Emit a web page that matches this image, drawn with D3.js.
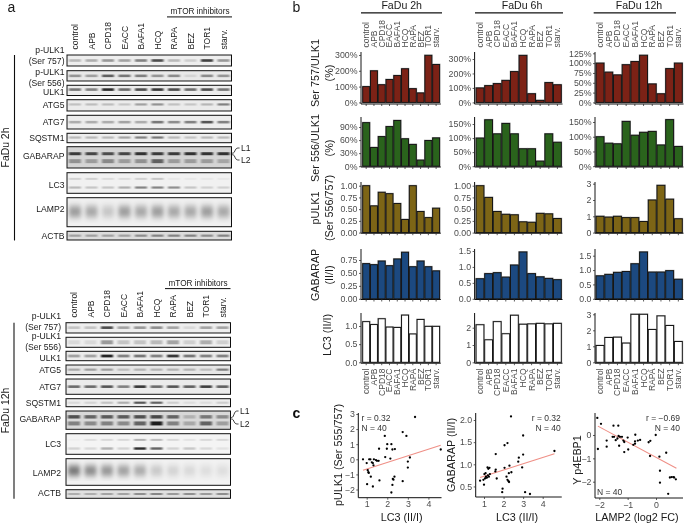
<!DOCTYPE html>
<html><head><meta charset="utf-8">
<script src="https://cdn.jsdelivr.net/npm/d3@7"></script>
<style>
html,body{margin:0;padding:0;background:#fff}
svg{display:block}
text{font-family:"Liberation Sans",Arial,sans-serif}
</style></head><body><div id="c"></div>
<script>
// ---------- data ----------
const categories=["control","APB","CPD18","EACC","BAFA1","HCQ","RAPA","BEZ","TOR1","starv."];
const times=["FaDu 2h","FaDu 6h","FaDu 12h"];

const ser757_2h=[100,200,112,145,170,213,87,60,298,240];
const ser757_6h=[100,116,130,152,213,325,60,14,137,122];
const ser757_12h=[100,77,70,96,104,120,47,22,86,100];
const ser556_2h=[100,43,68,91,105,63,50,14,59,65];
const ser556_6h=[100,165,115,152,115,62,62,18,115,85];
const ser556_12h=[100,78,76,152,105,115,118,72,158,67];
const pulk_2h=[1,.57,.86,.83,.62,.28,1,.45,.32,.52];
const pulk_6h=[1,.75,.45,.39,.38,.23,.22,.41,.40,.30];
const pulk_12h=[1,.95,1,.92,.92,.68,2,2.9,2.05,.85];
const gabarap_2h=[.68,.66,.73,.64,.77,.9,.62,.73,.62,.54];
const gabarap_6h=[.63,.79,.82,.68,1.06,1.47,.79,.69,.64,.6];
const gabarap_12h=[.8,.85,.92,.95,1.22,1.63,.93,.93,.98,.68];
const lc3_2h=[1.12,1.04,1.2,.97,.96,1.3,.78,1.18,.99,.99];
const lc3_6h=[2.17,1.3,2.35,1.65,2.72,2.2,2.22,2.25,2.22,2.25];
const lc3_12h=[1.05,1.55,1.57,1.2,3,3,2.05,2.9,2.3,1.3];

const ticks757_2h=[0,100,200,300], ticks757_6h=[0,100,200,300], ticks757_12h=[0,25,50,75,100,125];
const ticks556_2h=[0,30,60,90], ticks556_6h=[0,50,100,150], ticks556_12h=[0,50,100,150];
const ticksP_2h=[0,.25,.5,.75,1], ticksP_6h=[0,.25,.5,.75,1], ticksP_12h=[0,1,2,3];
const ticksG_2h=[0,.25,.5,.75], ticksG_6h=[0,.5,1,1.5], ticksG_12h=[0,.5,1,1.5];
const ticksL_2h=[0,.5,1], ticksL_6h=[0,1,2], ticksL_12h=[0,1,2,3];

const scatterLc3Pulk=[[.82,0],[1,-.25],[1.05,-.72],[1.08,-.85],[1.1,-.9],[1.02,-1.65],[1.12,0],[1.18,0],[1.2,-1.15],[1.25,-.2],[1.3,-.25],[1.33,-.4],[1.3,-1.8],[1.35,0],[1.5,-.1],[1.58,-.1],[1.62,-1.4],[1.6,.7],[1.88,1.55],[1.9,.15],[1.98,.7],[2,1],[2.15,.05],[2.2,1],[2.25,.65],[2.2,-2.2],[2.25,-1.7],[2.27,-1.3],[2.35,-1.15],[2.37,.68],[2.75,-1.45],[2.75,1.8],[2.93,1.55],[3,-.55],[3,-.15],[3.1,.12],[3.35,2.8],[4.6,.65],[1.45,-.05],[2.3,-1.35]];
const scatterLc3Gab=[[.8,.63],[.97,.65],[1,.54],[1.02,.78],[1.05,.68],[1.08,.8],[1.12,.7],[1.18,.93],[1.2,.75],[1.25,.72],[1.3,.78],[1.28,.92],[1.58,.84],[1.6,.88],[1.6,1.23],[1.65,.68],[1.95,.45],[1.93,.37],[2.05,1.43],[2.05,.92],[2.2,1.48],[2.2,.65],[2.25,.62],[2.27,.8],[2.28,.6],[2.3,.97],[2.4,.82],[2.38,2.08],[2.75,1.06],[2.78,1.15],[2.95,.93],[3,1.65],[3,1.22],[3.1,.37],[3.35,.33],[4.6,1.3],[2.15,.72],[1.15,.7],[1.1,.72],[1.22,.9]];
const scatterLampEbp=[[-2.07,.73],[-1.94,.48],[-2.05,-.6],[-1.74,-.24],[-1.74,-.5],[-1.5,.4],[-1.33,.4],[-1.53,-.08],[-1.48,-.08],[-1.42,-.22],[-1.32,-.04],[-1.27,-.08],[-1.2,-.08],[-1.3,-.46],[-1.15,-.24],[-1.12,-.3],[-1.12,-.73],[-1,-.11],[-.98,-.62],[-.74,-.37],[-.73,.01],[-.74,-.27],[-.64,-.24],[-.56,-.21],[-.26,-.31],[-.2,-.25],[-.21,-.9],[-.01,0],[.12,-.93],[.36,-.76],[.14,-1.53],[.14,-2.04],[.43,-2.52],[.49,-1.82],[.55,-1.8],[.61,-1.8],[.64,-1.82],[.7,-1.9],[-1.36,-.15],[-.8,-.42]];
const trendLc3Pulk=[[.82,-.72],[4.6,.93]];
const trendLc3Gab=[[.8,.7],[4.6,1.24]];
const trendLampEbp=[[-2.05,.38],[.72,-1.42]];

// western blot band intensities per lane
const blot2h_757=[.25,.3,.4,.35,.5,.75,.25,.15,.8,.4];
const blot2h_556=[.4,.35,.65,.55,.5,.4,.45,.1,.45,.4];
const blot2h_ulk=[.55,.5,.9,.6,.75,.85,.75,.6,.75,.55];
const blot2h_atg5=[.2,.22,.22,.18,.35,.42,.2,.18,.25,.5];
const blot2h_atg7=[.3,.3,.3,.35,.3,.55,.45,.5,.7,.5];
const blot2h_sqstm=[.25,.25,.25,.35,.5,.55,.25,.2,.25,.25];
const blot2h_gabL1=[.8,.75,.7,.75,.85,.8,.8,.85,.85,.85];
const blot2h_gabL2=[.35,.3,.4,.3,.35,.6,.3,.3,.3,.25];
const blot2h_lc3a=[.15,.15,.1,.1,.15,.2,.05,.05,.05,.05];
const blot2h_lc3b=[.25,.2,.2,.3,.5,.5,.45,.2,.15,.15];
const blot2h_lamp=[.4,.35,.2,.4,.35,.4,.35,.35,.4,.35];
const blot2h_actb=[.3,.3,.3,.3,.4,.45,.45,.45,.4,.45];
const blot12h_757=[.2,.2,.75,.35,.4,.45,.35,.1,.35,.35];
const blot12h_556=[.1,.1,.4,.2,.2,.25,.35,.15,.3,.15];
const blot12h_ulk=[.35,.35,.95,.5,.55,.5,.85,.55,.5,.5];
const blot12h_atg5=[.3,.35,.35,.2,.25,.25,.25,.25,.2,.5];
const blot12h_atg7=[.6,.6,.7,.5,.85,.6,.7,.65,.8,.65];
const blot12h_sqstm=[.1,.12,.2,.3,.7,.65,.15,.08,.08,.15];
const blot12h_gabL1=[.7,.6,.65,.65,.7,.75,.6,.2,.5,.4];
const blot12h_gabL2=[.45,.4,.45,.4,.6,.95,.45,.25,.6,.3];
const blot12h_lc3a=[.02,.1,.12,.12,.3,.25,.12,.08,.12,.12];
const blot12h_lc3b=[.15,.12,.3,.15,.9,.65,.15,.2,.12,.08];
const blot12h_lamp=[.6,.5,.45,.4,.35,.2,.15,.12,.1,.1];
const blot12h_actb=[.25,.25,.3,.3,.4,.45,.35,.4,.35,.4];

// ---------- layout ----------
const W=685,H=524;
const svg=d3.select("#c").append("svg").attr("width",W).attr("height",H);
const defs=svg.append("defs");
defs.append("filter").attr("id","soft").attr("x","-30%").attr("y","-200%").attr("width","160%").attr("height","500%")
  .append("feGaussianBlur").attr("stdDeviation","1.0 0.6");
defs.append("filter").attr("id","wide").attr("x","-30%").attr("y","-50%").attr("width","160%").attr("height","200%")
  .append("feGaussianBlur").attr("stdDeviation","2.2 3");
defs.append("filter").attr("id","txt").attr("x","-5%").attr("y","-20%").attr("width","110%").attr("height","140%")
  .append("feGaussianBlur").attr("stdDeviation","0.25");

const root=svg.append("g").attr("filter","url(#txt)");
const INK="#1a1a1a", GREY="#4d4d4d";
const TICK=8.8, LANE=8.5, BLOT=8.6, TITLE=10.6, AXT=10.8, NOTE=8.5;

function txt(x,y,s,o={}){
  const t=root.append("text").attr("x",x).attr("y",y).text(s)
    .attr("font-size",o.size||8).attr("fill",o.fill||INK)
    .attr("text-anchor",o.anchor||"start");
  if(o.rot!==undefined) t.attr("transform",`rotate(${o.rot} ${x} ${y})`);
  return t;
}
function line(x1,y1,x2,y2,w=1,c="#111"){
  root.append("line").attr("x1",x1).attr("y1",y1).attr("x2",x2).attr("y2",y2)
    .attr("stroke",c).attr("stroke-width",w);
}

// ---------- panel a ----------
function blotPanel(cfg){
  const x=d3.scalePoint().domain(categories).range([cfg.lane0,cfg.lane1]);
  categories.forEach(c=>{
    txt(x(c)+3,cfg.labelY,c,{size:LANE,rot:-90});
  });
  txt(cfg.mtorX,cfg.mtorY,"mTOR inhibitors",{size:8.2,anchor:"middle"});
  line(cfg.mtorL,cfg.mtorY+2.6,cfg.mtorR,cfg.mtorY+2.6,1);
  line(cfg.sideX,cfg.rows[0].y0,cfg.sideX,cfg.rows[cfg.rows.length-1].y1+.5,1.1);
  txt(cfg.sideX-5.5,(cfg.rows[0].y0+cfg.rows[cfg.rows.length-1].y1)/2,cfg.title,{size:10.4,rot:-90,anchor:"middle"});
  cfg.rows.forEach((r,i)=>{
    const clipId=cfg.id+"c"+i;
    defs.append("clipPath").attr("id",clipId).append("rect")
      .attr("x",cfg.left).attr("y",r.y0).attr("width",cfg.right-cfg.left).attr("height",r.y1-r.y0);
    root.append("rect").attr("x",cfg.left).attr("y",r.y0).attr("width",cfg.right-cfg.left).attr("height",r.y1-r.y0).attr("fill",r.bg);
    const g=root.append("g").attr("clip-path",`url(#${clipId})`);
    r.bands.forEach(b=>{
      g.append("g").attr("filter",r.wide?"url(#wide)":"url(#soft)").selectAll("rect").data(b.v).join("rect")
        .attr("x",(d,j)=>x(categories[j])-6).attr("width",12)
        .attr("y",r.y0+(r.y1-r.y0)*b.f-b.h/2).attr("height",b.h)
        .attr("fill","#000").attr("opacity",d=>d*.9);
    });
    root.append("rect").attr("x",cfg.left).attr("y",r.y0).attr("width",cfg.right-cfg.left).attr("height",r.y1-r.y0)
      .attr("fill","none").attr("stroke","#111").attr("stroke-width",1);
    const lbl=r.label;
    if(lbl.length===2){
      txt(cfg.labelRight,r.ly-11,lbl[0],{size:BLOT,anchor:"end"});
      txt(cfg.labelRight,r.ly,lbl[1],{size:BLOT,anchor:"end"});
    } else txt(cfg.labelRight,r.ly,lbl[0],{size:BLOT,anchor:"end"});
  });
  // L1 / L2 callouts
  const gab=cfg.rows[6];
  txt(cfg.right+9.5,cfg.l1y,"L1",{size:BLOT});
  txt(cfg.right+9.5,cfg.l2y,"L2",{size:BLOT});
  const cur=d3.line().curve(d3.curveBasis);
  root.append("path").attr("fill","none").attr("stroke","#111").attr("stroke-width",.8)
    .attr("d",cur([[cfg.right,gab.y0+6.5],[cfg.right+3,gab.y0+6.5],[cfg.right+4,cfg.l1y-3],[cfg.right+8,cfg.l1y-3]]));
  root.append("path").attr("fill","none").attr("stroke","#111").attr("stroke-width",.8)
    .attr("d",cur([[cfg.right,gab.y0+8],[cfg.right+3,gab.y0+8],[cfg.right+4,cfg.l2y-3],[cfg.right+8,cfg.l2y-3]]));
}
blotPanel({id:"t",title:"FaDu 2h",left:67,right:231.5,lane0:75,lane1:223.5,labelY:49.5,labelRight:64.5,
  mtorX:200,mtorY:14.3,mtorL:167,mtorR:232,sideX:14.5,l1y:151,l2y:163,
  rows:[
  {label:["p-ULK1","(Ser 757)"],ly:64,y0:55,y1:66,bg:"#eeeeee",bands:[{f:.5,h:2.6,v:blot2h_757}]},
  {label:["p-ULK1","(Ser 556)"],ly:85.5,y0:70.7,y1:81,bg:"#e9e9e9",bands:[{f:.5,h:2.6,v:blot2h_556}]},
  {label:["ULK1"],ly:95,y0:85.3,y1:95.5,bg:"#ececec",bands:[{f:.42,h:2.6,v:blot2h_ulk}]},
  {label:["ATG5"],ly:108.3,y0:99.7,y1:111,bg:"#ebebeb",bands:[{f:.42,h:2.2,v:blot2h_atg5}]},
  {label:["ATG7"],ly:125,y0:115.3,y1:129,bg:"#ededed",bands:[{f:.5,h:2.6,v:blot2h_atg7}]},
  {label:["SQSTM1"],ly:140.5,y0:133.3,y1:142.7,bg:"#eeeeee",bands:[{f:.45,h:2.2,v:blot2h_sqstm}]},
  {label:["GABARAP"],ly:159,y0:146.7,y1:168,bg:"#d4d4d4",bands:[{f:.33,h:3,v:blot2h_gabL1},{f:.68,h:4,v:blot2h_gabL2}]},
  {label:["LC3"],ly:187.5,y0:172.7,y1:193.3,bg:"#f1f1f1",bands:[{f:.3,h:2,v:blot2h_lc3a},{f:.72,h:2.2,v:blot2h_lc3b}]},
  {label:["LAMP2"],ly:212,y0:197.7,y1:226.7,bg:"#f0f0f0",wide:true,bands:[{f:.48,h:11,v:blot2h_lamp}]},
  {label:["ACTB"],ly:238.5,y0:231.3,y1:240,bg:"#dcdcdc",bands:[{f:.5,h:2.2,v:blot2h_actb}]}
  ]});
blotPanel({id:"b",title:"FaDu 12h",left:66,right:230.5,lane0:74,lane1:222.5,labelY:317.5,labelRight:61,
  mtorX:198,mtorY:286,mtorL:165,mtorR:230.5,sideX:14,l1y:414,l2y:427,
  rows:[
  {label:["p-ULK1","(Ser 757)"],ly:329.5,y0:322.7,y1:333,bg:"#eeeeee",bands:[{f:.48,h:2.6,v:blot12h_757}]},
  {label:["p-ULK1","(Ser 556)"],ly:349.5,y0:337.3,y1:347.3,bg:"#efefef",bands:[{f:.5,h:4,v:blot12h_556}]},
  {label:["ULK1"],ly:361,y0:351.3,y1:360.7,bg:"#ececec",bands:[{f:.5,h:2.8,v:blot12h_ulk}]},
  {label:["ATG5"],ly:373,y0:365,y1:374.7,bg:"#e6e6e6",bands:[{f:.48,h:2.2,v:blot12h_atg5}]},
  {label:["ATG7"],ly:390,y0:379,y1:394.3,bg:"#ebebeb",bands:[{f:.5,h:2.6,v:blot12h_atg7}]},
  {label:["SQSTM1"],ly:405.5,y0:398.7,y1:406.7,bg:"#eeeeee",bands:[{f:.5,h:2.2,v:blot12h_sqstm}]},
  {label:["GABARAP"],ly:421.8,y0:411,y1:429.3,bg:"#d8d8d8",bands:[{f:.32,h:3.4,v:blot12h_gabL1},{f:.68,h:4,v:blot12h_gabL2}]},
  {label:["LC3"],ly:447,y0:433.7,y1:454.3,bg:"#f4f4f4",bands:[{f:.3,h:2,v:blot12h_lc3a},{f:.72,h:2.4,v:blot12h_lc3b}]},
  {label:["LAMP2"],ly:476,y0:458.7,y1:485.3,bg:"#f2f2f2",wide:true,bands:[{f:.45,h:10,v:blot12h_lamp}]},
  {label:["ACTB"],ly:495.5,y0:489.7,y1:498.3,bg:"#e0e0e0",bands:[{f:.5,h:2,v:blot12h_actb}]}
  ]});

txt(7.5,12,"a",{size:14});
txt(292.5,12,"b",{size:14});
txt(292.5,418,"c",{size:14,fill:"#111"}).attr("font-weight","bold");

// ---------- panel b ----------
const colsX=[{l:362.3,r:440},{l:475.7,r:561.7},{l:595.7,r:682.7}];
const axisX=[361,474.6,595];
const rowsY=[
 {top:52,axis:104,zero:102.4,color:"#7c2215"},
 {top:117,axis:167,zero:166.2,color:"#2a641f"},
 {top:182,axis:233.2,zero:232.6,color:"#7d6518"},
 {top:249,axis:299.5,zero:298.8,color:"#1a4a80"},
 {top:313,axis:363.2,zero:362.3,color:"#ffffff"}
];
const pct=d=>d+"%", f2=d3.format(".2f"), f1=d3.format(".1f"), f0=d3.format("d");
const panels=[
 [{v:ser757_2h,t:ticks757_2h,ref:[300,55],f:pct},{v:ser757_6h,t:ticks757_6h,ref:[300,59],f:pct},{v:ser757_12h,t:ticks757_12h,ref:[125,53.3],f:pct}],
 [{v:ser556_2h,t:ticks556_2h,ref:[90,127],f:pct},{v:ser556_6h,t:ticks556_6h,ref:[150,124],f:pct},{v:ser556_12h,t:ticks556_12h,ref:[150,122],f:pct}],
 [{v:pulk_2h,t:ticksP_2h,ref:[1,185.7],f:f2},{v:pulk_6h,t:ticksP_6h,ref:[1,185.7],f:f2},{v:pulk_12h,t:ticksP_12h,ref:[3,183.7],f:f0}],
 [{v:gabarap_2h,t:ticksG_2h,ref:[.75,260],f:f2},{v:gabarap_6h,t:ticksG_6h,ref:[1.5,251],f:f1},{v:gabarap_12h,t:ticksG_12h,ref:[1.5,255.7],f:f1}],
 [{v:lc3_2h,t:ticksL_2h,ref:[1,326],f:f1},{v:lc3_6h,t:ticksL_6h,ref:[2,327.7],f:f0},{v:lc3_12h,t:ticksL_12h,ref:[3,314.3],f:f0}]
];
function styleAxis(g){
  g.selectAll(".domain").attr("stroke","#111").attr("stroke-width",1);
  g.selectAll(".tick line").attr("stroke","#333").attr("stroke-width",.8);
  g.selectAll(".tick text").attr("fill",GREY).attr("font-size",TICK)
    .style("font-family",'"Liberation Sans",Arial,sans-serif');
}
panels.forEach((row,ri)=>{
  const R=rowsY[ri];
  row.forEach((p,ci)=>{
    const C=colsX[ci];
    const x=d3.scaleBand().domain(categories).range([C.l,C.r]).padding(0);
    const y=d3.scaleLinear().domain([0,p.ref[0]]).range([R.zero,p.ref[1]]);
    const g=root.append("g");
    g.selectAll(".halo").data(p.v).join("rect")
      .attr("x",(d,i)=>x(categories[i])+.4).attr("width",x.bandwidth()-.8)
      .attr("y",d=>y(d)).attr("height",d=>R.zero-y(d))
      .attr("fill","none").attr("stroke","#b5b5b5").attr("stroke-width",1.8);
    g.selectAll(".bar").data(p.v).join("rect")
      .attr("x",(d,i)=>x(categories[i])+.4).attr("width",x.bandwidth()-.8)
      .attr("y",d=>y(d)).attr("height",d=>R.zero-y(d))
      .attr("fill",R.color).attr("stroke","#151515").attr("stroke-width",1);
    const yg=g.append("g").attr("transform",`translate(${axisX[ci]},0)`)
      .call(d3.axisLeft(y).tickValues(p.t).tickFormat(p.f).tickSize(2).tickPadding(1.5).tickSizeOuter(0));
    yg.select(".domain").attr("d",`M0,${R.top}V${R.axis}`);
    styleAxis(yg);
    const xg=g.append("g").attr("transform",`translate(0,${R.axis})`)
      .call(d3.axisBottom(x).tickSize(2).tickFormat("").tickSizeOuter(0));
    xg.select(".domain").attr("d",`M${axisX[ci]},0H${C.r+.8}`);
    styleAxis(xg);
    if(ri===4){
      categories.forEach(c=>{
        txt(x(c)+x.bandwidth()/2+3,368.5,c,{size:LANE,fill:GREY,anchor:"end",rot:-90});
      });
    }
    if(ri===0){
      categories.forEach(c=>{
        txt(x(c)+x.bandwidth()/2+3,47.5,c,{size:LANE,fill:GREY,rot:-90});
      });
    }
  });
});
const titleLines=[[361,442,401.7],[475,563,522],[593.7,676,639]];
times.forEach((t,i)=>{
  const [a,b,c]=titleLines[i];
  txt(c,9.4,t,{size:TITLE,anchor:"middle"});
  line(a,12.8,b,12.8,1.2);
});
const yt=(x,y,s)=>txt(x,y,s,{size:AXT,rot:-90,anchor:"middle"});
yt(319,73,"Ser 757/ULK1"); yt(332.5,73,"(%)");
yt(319,148,"Ser 556/ULK1"); yt(332.5,148,"(%)");
yt(319,208,"pULK1"); yt(332.5,208,"(Ser 556/757)");
yt(319,275,"GABARAP"); yt(332.5,275,"(II/I)");
yt(331,335,"LC3 (II/I)");

// ---------- panel c ----------
const scat=[
 {pts:scatterLc3Pulk,tr:trendLc3Pulk,l:358.3,r:441.5,top:413,bot:497.7,xs:[[1,366.7],[4,428.4]],ys:[[0,459.3],[3,414]],xt:[1,2,3,4],yt:[-2,-1,0,1,2,3],yf:f0,
  xl:"LC3 (II/I)",xlx:401.7,yl:"pULK1 (Ser 555/757)",ylx:341.5,yly:455},
 {pts:scatterLc3Gab,tr:trendLc3Gab,l:475.7,r:561.7,top:413,bot:497,xs:[[1,484],[4,542.7]],ys:[[1,464.3],[2,420]],xt:[1,2,3,4],yt:[.5,1,1.5,2],yf:f1,
  xl:"LC3 (II/I)",xlx:517,yl:"GABARAP (II/I)",ylx:455,yly:455},
 {pts:scatterLampEbp,tr:trendLampEbp,l:595,r:683,top:413,bot:498,xs:[[-2,599.3],[0,656]],ys:[[0,435],[-2,481.7]],xt:[-2,-1,0],yt:[-2,-1,0],yf:f0,
  xl:"LAMP2 (log2 FC)",xlx:637,yl:"Y p4EBP1",ylx:581,yly:460}
];
scat.forEach(s=>{
  const x=d3.scaleLinear().domain(s.xs.map(d=>d[0])).range(s.xs.map(d=>d[1]));
  const y=d3.scaleLinear().domain(s.ys.map(d=>d[0])).range(s.ys.map(d=>d[1]));
  root.append("path").attr("fill","none").attr("stroke","#ef8f86").attr("stroke-width",1.1)
    .attr("d",d3.line().x(d=>x(d[0])).y(d=>y(d[1]))(s.tr));
  root.append("g").selectAll("circle").data(s.pts).join("circle")
    .attr("cx",d=>x(d[0])).attr("cy",d=>y(d[1])).attr("r",1.15).attr("fill","#000");
  const gx=root.append("g").attr("transform",`translate(0,${s.bot})`)
    .call(d3.axisBottom(x).tickValues(s.xt).tickFormat(f0).tickSize(2).tickPadding(1.5).tickSizeOuter(0));
  gx.select(".domain").attr("d",`M${s.l},0H${s.r}`);
  styleAxis(gx);
  const gy=root.append("g").attr("transform",`translate(${s.l},0)`)
    .call(d3.axisLeft(y).tickValues(s.yt).tickFormat(s.yf).tickSize(2).tickPadding(1.5).tickSizeOuter(0));
  gy.select(".domain").attr("d",`M0,${s.top}V${s.bot}`);
  styleAxis(gy);
  txt(s.xlx,521,s.xl,{size:AXT,anchor:"middle"});
  txt(s.ylx,s.yly,s.yl,{size:AXT,rot:-90,anchor:"middle"});
});
txt(361.5,420.5,"r = 0.32",{size:NOTE,fill:"#333"});
txt(361.5,431,"N = 40",{size:NOTE,fill:"#333"});
txt(560.8,420.5,"r = 0.32",{size:NOTE,fill:"#333",anchor:"end"});
txt(560.8,431,"N = 40",{size:NOTE,fill:"#333",anchor:"end"});
txt(680,420.5,"r = −0.69",{size:NOTE,fill:"#333",anchor:"end"});
txt(680,431,"N = 40",{size:NOTE,fill:"#333",anchor:"end"});
txt(597,494.5,"N = 40",{size:NOTE,fill:"#333"});
</script></body></html>
